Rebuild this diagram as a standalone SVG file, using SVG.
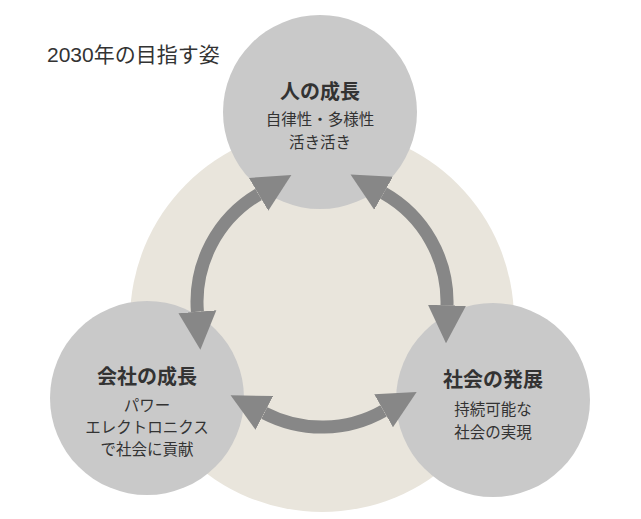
<svg xmlns="http://www.w3.org/2000/svg" width="641" height="519" viewBox="0 0 641 519">
<style>
.n{fill:#c9c9c9}
.t{font-family:"Liberation Sans","Noto Sans CJK JP",sans-serif;fill:#333;text-anchor:middle}
.h{font-size:20px;font-weight:bold}
.s{font-size:15.5px}
.a{fill:none;stroke:#878787;stroke-width:13}
</style>
<defs>
<marker id="ah" viewBox="0 -20 40 40" markerWidth="40" markerHeight="40" refX="0" refY="0" markerUnits="userSpaceOnUse" orient="auto-start-reverse">
<path d="M0,-19 L38,0 L0,19 z" fill="#878787"/>
</marker>
</defs>
<rect width="641" height="519" fill="#fff"/>
<circle cx="322" cy="320" r="192" fill="#e9e5dc"/>
<text x="47" y="62" class="t" style="font-size:21px;text-anchor:start">2030年の目指す姿</text>
<g id="top"><circle class="n" cx="320" cy="112" r="97"/>
<text class="t h" x="320" y="99">人の成長</text>
<text class="t s" x="320" y="125">自律性・多様性</text>
<text class="t s" x="320" y="148">活き活き</text></g>
<g id="left"><circle class="n" cx="147" cy="398" r="97"/>
<text class="t h" x="147" y="384">会社の成長</text>
<text class="t s" x="147" y="411">パワー</text>
<text class="t s" x="147" y="433">エレクトロニクス</text>
<text class="t s" x="147" y="455">で社会に貢献</text></g>
<g id="right"><circle class="n" cx="493" cy="400" r="97"/>
<text class="t h" x="493" y="387">社会の発展</text>
<text class="t s" x="493" y="415">持続可能な</text>
<text class="t s" x="493" y="438">社会の実現</text></g>
<g id="connectors">
<path class="a" d="M197.4 311.8 A125 125 0 0 1 258.6 194.3" marker-start="url(#ah)" marker-end="url(#ah)"/>
<path class="a" d="M383.6 193.2 A125 125 0 0 1 447 305.3" marker-start="url(#ah)" marker-end="url(#ah)"/>
<path class="a" d="M383.6 410.8 A125 125 0 0 1 264.3 412.9" marker-start="url(#ah)" marker-end="url(#ah)"/>
</g>
</svg>
